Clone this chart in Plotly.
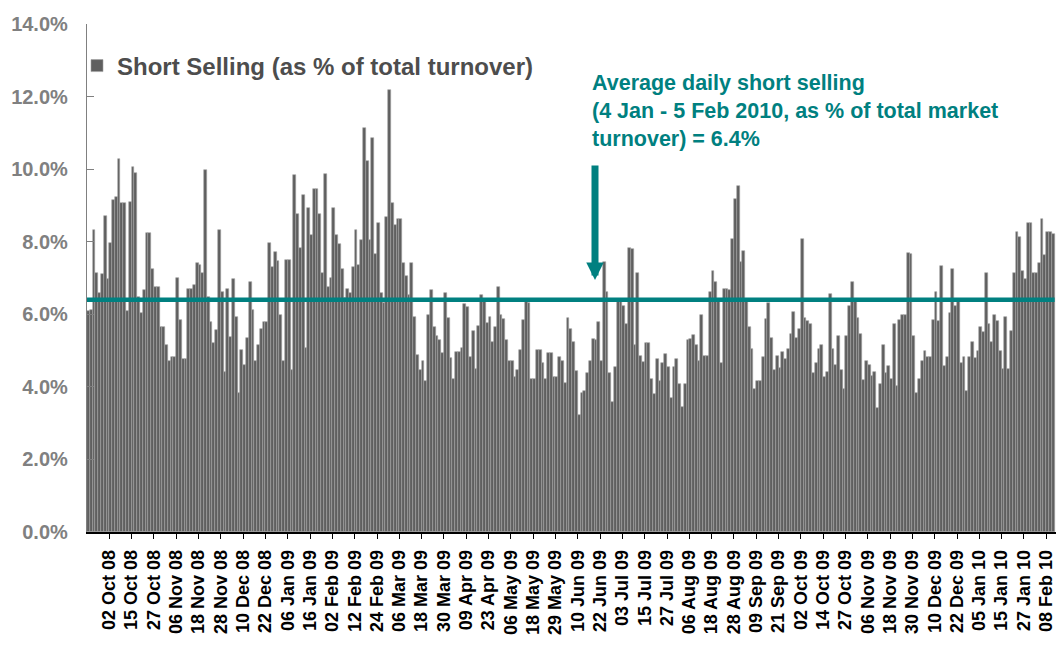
import plotly.graph_objects as go

# Daily short selling as % of total market turnover (trading days, 19 Sep 08 -> Feb 10)
ss_sep08_dec08 = [
    6.1, 6.12, 8.32, 7.15, 6.58, 7.11, 8.71, 6.96, 7.97, 9.15,
    9.24, 10.27, 9.06, 9.06, 6.1, 9.1, 10.07, 9.9, 6.48, 6.03,
    6.67, 8.23, 8.23, 7.25, 6.76, 6.76, 5.66, 5.64, 5.15, 4.71,
    4.81, 4.81, 7.01, 5.84, 4.76, 4.76, 6.71, 6.71, 6.81, 7.40,
    7.35, 7.13, 9.98, 6.48, 5.80, 5.2, 5.57, 8.32, 6.62, 4.42,
    6.71, 5.38, 6.96, 5.93, 3.84, 5.01, 4.60, 5.34,
]
ss_dec08_mar09 = [
    6.9, 6.12, 4.72, 5.15, 5.59, 5.80, 5.80, 7.97, 7.29, 7.72,
    7.48, 5.98, 4.72, 7.50, 7.50, 4.46, 9.83, 8.76, 7.82, 9.29,
    5.06, 8.92, 8.18, 9.44, 9.44, 8.76, 7.15, 9.88, 6.76, 7.01,
    8.92, 8.18, 7.93, 7.25, 6.44, 6.71, 6.58, 7.3, 8.32, 7.35,
    8.05, 11.14, 10.23, 8.05, 10.85, 7.66, 8.52, 6.58, 6.3, 8.67,
    12.18, 9.06, 8.46, 8.62, 8.62, 7.40,
]
ss_mar09_jun09 = [
    7.05, 6.53, 7.40, 5.93, 4.88, 4.46, 4.71, 4.17, 5.98, 6.67,
    5.64, 5.40, 5.29, 4.92, 6.58, 5.89, 4.79, 4.23, 4.97, 4.97,
    5.06, 6.28, 6.19, 4.83, 5.55, 4.48, 5.68, 6.53, 6.40, 5.75,
    5.93, 5.24, 5.65, 6.76, 5.98, 5.86, 5.29, 4.72, 4.72, 4.28,
    4.46, 5.01, 5.84, 6.37, 6.30, 4.23, 4.23, 5.01, 5.01, 4.65,
    4.23, 4.92, 4.92, 4.28, 4.28, 4.83, 4.72,
]
ss_jun09_aug09 = [
    4.10, 5.89, 5.6, 5.24, 4.45, 3.22, 3.84, 3.89, 4.37, 4.71,
    5.31, 5.28, 5.80, 4.72, 7.45, 6.62, 4.37, 3.59, 4.54, 6.37,
    6.37, 6.23, 5.73, 7.84, 7.80, 5.15, 7.15, 4.85, 4.69, 5.20,
    5.20, 4.21, 3.79, 4.76, 4.17, 4.66, 4.90, 4.54, 3.68, 4.56,
    4.76, 4.08, 3.44, 4.08, 5.29, 5.33, 5.43, 5.15, 4.71, 5.98,
    4.85, 4.85, 6.62, 7.20, 6.90, 6.37, 4.66,
]
ss_aug09_nov09 = [
    6.71, 6.70, 6.67, 8.07, 9.19, 9.54, 7.45, 7.74, 6.39, 5.64,
    5.04, 3.94, 4.17, 4.17, 4.81, 5.87, 6.32, 5.34, 4.46, 4.85,
    4.51, 4.95, 4.76, 5.04, 5.45, 6.07, 5.34, 5.59, 8.07, 5.9,
    5.82, 5.73, 4.37, 4.67, 5.04, 5.15, 4.28, 4.42, 6.56, 5.04,
    4.60, 5.40, 4.46, 3.94, 5.40, 6.23, 6.90, 6.37, 5.89, 5.45,
    4.19, 4.72, 4.59, 4.3, 4.42, 3.41, 4.08,
]
ss_nov09_feb10 = [
    5.15, 4.37, 4.57, 4.22, 5.73, 4.02, 5.84, 5.98, 5.98, 7.70,
    7.65, 5.40, 3.84, 4.23, 4.72, 5.0, 4.81, 4.81, 5.84, 6.62,
    5.81, 7.34, 4.57, 4.83, 6.03, 7.25, 6.23, 6.37, 4.67, 4.81,
    3.89, 4.81, 5.24, 4.8, 5.0, 5.64, 5.5, 7.15, 5.73, 5.24,
    5.98, 5.81, 4.99, 4.48, 5.93, 4.5, 5.55, 7.15, 8.27, 8.12,
    7.18, 6.96, 8.52, 8.52, 7.15, 7.15, 7.40, 8.62, 7.63, 8.27,
    8.27, 8.2,
]

tick_labels = [
    "02 Oct 08", "15 Oct 08", "27 Oct 08", "06 Nov 08", "18 Nov 08", "28 Nov 08",
    "10 Dec 08", "22 Dec 08", "06 Jan 09", "16 Jan 09", "02 Feb 09", "12 Feb 09",
    "24 Feb 09", "06 Mar 09", "18 Mar 09", "30 Mar 09", "09 Apr 09", "23 Apr 09",
    "06 May 09", "18 May 09", "29 May 09", "10 Jun 09", "22 Jun 09", "03 Jul 09",
    "15 Jul 09", "27 Jul 09", "06 Aug 09", "18 Aug 09", "28 Aug 09", "09 Sep 09",
    "21 Sep 09", "02 Oct 09", "14 Oct 09", "27 Oct 09", "06 Nov 09", "18 Nov 09",
    "30 Nov 09", "10 Dec 09", "22 Dec 09", "05 Jan 10", "15 Jan 10", "27 Jan 10",
    "08 Feb 10",
]
label_every = 8          # one label every 8 trading days
first_label_day = 8      # "02 Oct 08" is the 9th trading day shown

average_level = 6.4
series_name = "Short Selling (as % of total turnover)"
note_text = ("Average daily short selling<br>(4 Jan - 5 Feb 2010, as % of total market"
             "<br>turnover) = 6.4%")

short_selling = (ss_sep08_dec08 + ss_dec08_mar09 + ss_mar09_jun09 +
                 ss_jun09_aug09 + ss_aug09_nov09 + ss_nov09_feb10)
days = list(range(len(short_selling)))
tickvals = [first_label_day - 0.5 + label_every * k for k in range(len(tick_labels))]

FONT = "Liberation Sans, Arial, sans-serif"
TEAL = "#008080"

# figure sized so that the page (with the browser's 8px body margin) fits the window
W, H = 1048, 629
ML, MT, MB = 79, 16, 105
plot_w = W - ML
plot_h = H - MT - MB

fig = go.Figure()
fig.add_trace(go.Bar(
    x=days, y=short_selling, name="<b>" + series_name + "</b>",
    marker=dict(color="#5f5f5f", line=dict(color="#a3a3a3", width=0.6)),
    showlegend=True,
))

# average level drawn as a line series across the whole period
fig.add_trace(go.Scatter(
    x=[days[0] - 0.5, days[-1] + 0.5], y=[average_level, average_level],
    mode="lines", line=dict(color=TEAL, width=4.5),
    showlegend=False, hoverinfo="skip",
))

fig.add_annotation(xref="paper", yref="paper", x=(582 - ML) / plot_w, y=(508 - 45) / plot_h,
                   xanchor="left", yanchor="top", align="left", showarrow=False,
                   text="<b>" + note_text + "</b>",
                   font=dict(family=FONT, size=21.5, color=TEAL))

fig.add_annotation(xref="paper", yref="paper", x=(587 - ML) / plot_w, y=(508 - 256) / plot_h,
                   ax=0, ay=-116,
                   text="", showarrow=True, arrowhead=2, arrowsize=0.5,
                   arrowwidth=7, arrowcolor=TEAL)

fig.update_layout(
    template="none",
    width=W, height=H,
    margin=dict(l=ML, r=0, t=MT, b=MB),
    paper_bgcolor="white", plot_bgcolor="white",
    bargap=0,
    font=dict(family=FONT),
    showlegend=True,
    legend=dict(x=(69 - ML) / plot_w, xanchor="left", y=(508 - 42) / plot_h, yanchor="middle",
                bgcolor="rgba(0,0,0,0)", borderwidth=0,
                font=dict(family=FONT, size=24, color="#4d4d4d")),
    xaxis=dict(
        range=[-0.5, 347.0], tickmode="array", tickvals=tickvals, ticktext=tick_labels,
        tickangle=-90, tickfont=dict(family=FONT, size=18, color="black", weight="bold"),
        ticks="outside", ticklen=5, tickcolor="black", tickwidth=1,
        showline=True, linecolor="black", linewidth=1.5,
        showgrid=False, zeroline=False, automargin=False, ticklabelstandoff=4,
        ticklabeloverflow="allow",
    ),
    yaxis=dict(
        range=[0, 14], tick0=0, dtick=2, tickformat=".1f", ticksuffix="%",
        tickfont=dict(family=FONT, size=20, color="#808080", weight="bold"),
        ticks="inside", ticklen=7, tickcolor="#808080", tickwidth=1.3,
        showline=True, linecolor="#808080", linewidth=1.3,
        showgrid=False, zeroline=False, automargin=False, ticklabelstandoff=14,
    ),
)

fig.write_html("out.html")
